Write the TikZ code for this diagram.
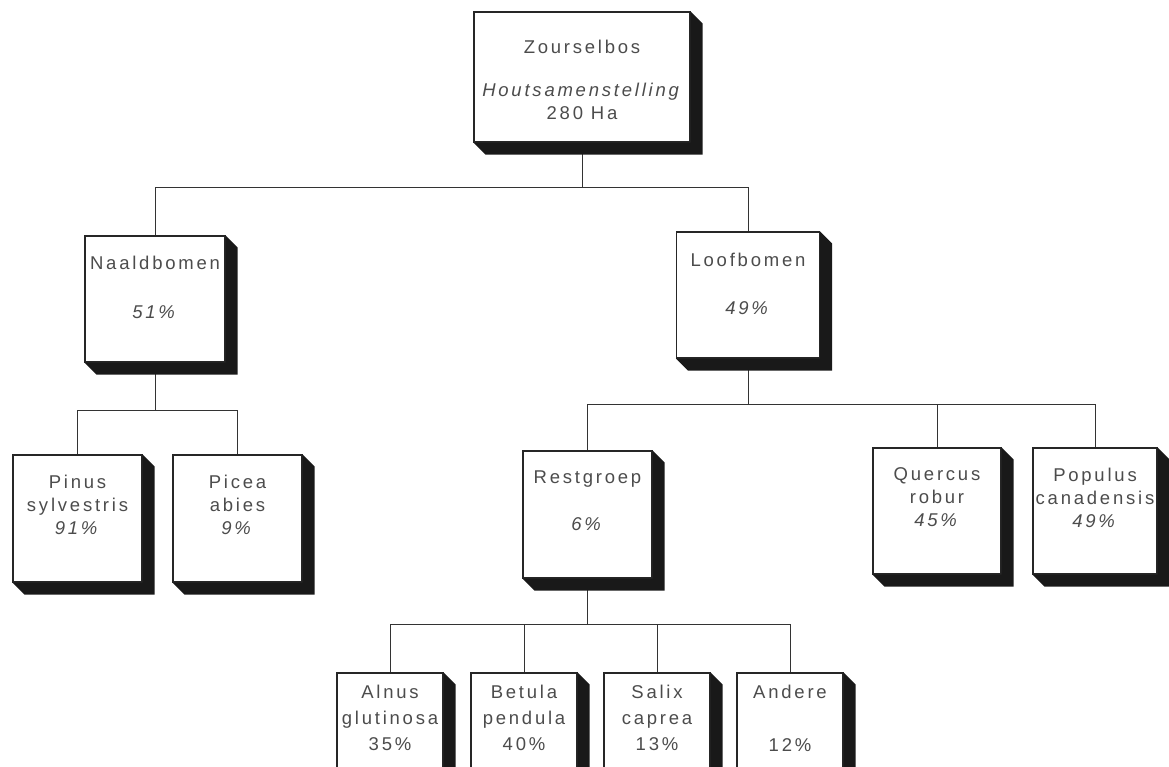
\documentclass[tikz,border=0pt]{standalone}
\usepackage{fontspec}
\setmainfont{Liberation Sans}[LetterSpace=15]
\usetikzlibrary{positioning}

\begin{document}
\begin{tikzpicture}[x=1pt,y=-1pt]
	\tikzstyle{box}=[draw=black!85,line width=1.2pt,fill=white,inner sep=0pt]
	\tikzstyle{small}=[box,minimum width=106pt,minimum height=127pt]
	\tikzstyle{txt}=[align=center,inner sep=0pt,text=black!70,
	                 font=\fontsize{18.5}{23}\selectfont]
	\tikzstyle{conn}=[draw=black!80,line width=0.9pt]
	\useasboundingbox (0,0) rectangle (1169,767);

	% boxes
	\node[box,minimum width=216pt,minimum height=130pt] (top)   at (582,77)    {};
	\node[box,minimum width=140pt,minimum height=126pt] (naald) at (155,299)   {};
	\node[box,minimum width=143pt,minimum height=126pt] (loof)  at (748,295)   {};
	\node[box,minimum width=129pt,minimum height=127pt] (pinus) at (77.5,518.5) {};
	\node[box,minimum width=129pt,minimum height=127pt] (picea) at (237.5,518.5) {};
	\node[box,minimum width=129pt,minimum height=127pt] (rest)  at (587.5,514.5) {};
	\node[box,minimum width=128pt,minimum height=126pt] (quercus) at (937,511) {};
	\node[box,minimum width=124pt,minimum height=126pt] (populus) at (1095,511) {};
	\node[small] (alnus)  at (390,736.5) {};
	\node[small] (betula) at (524,736.5) {};
	\node[small] (salix)  at (657,736.5) {};
	\node[small] (andere) at (790,736.5) {};

	% connectors
	\draw[conn] (top.south) -- ++(0,45) coordinate (b0) -| (naald.north);
	\draw[conn] (b0) -| (loof.north);
	\draw[conn] (naald.south) -- ++(0,48) coordinate (b1) -| (pinus.north);
	\draw[conn] (b1) -| (picea.north);
	\draw[conn] (loof.south) -- ++(0,46) coordinate (b2) -| (rest.north);
	\draw[conn] (b2) -| (quercus.north);
	\draw[conn] (b2) -| (populus.north);
	\draw[conn] (rest.south) -- ++(0,46) coordinate (b3) -| (alnus.north);
	\draw[conn] (b3) -| (betula.north);
	\draw[conn] (b3) -| (salix.north);
	\draw[conn] (b3) -| (andere.north);

	% shadows
	\foreach \n in {top,naald,loof,pinus,picea,rest,quercus,populus,alnus,betula,salix,andere}
		\fill[black!90] (\n.north east) -- ++(12,12) -- ([shift={(12,12)}]\n.south east)
			-- ([shift={(12,12)}]\n.south west) -- (\n.south west) -- (\n.south east) -- cycle;

	% texts
	\node[txt,below=28pt of top.north]     (topT)     {Zourselbos\\[20pt]\textit{Houtsamenstelling}\\280 Ha};
	\node[txt,below=20pt of naald.north]   (naaldT)   {Naaldbomen\\[26pt]\textit{51\%}};
	\node[txt,below=21pt of loof.north]    (loofT)    {Loofbomen\\[25pt]\textit{49\%}};
	\node[txt,below=20pt of pinus.north]   (pinusT)   {Pinus\\sylvestris\\\textit{91\%}};
	\node[txt,below=20pt of picea.north]   (piceaT)   {Picea\\abies\\\textit{9\%}};
	\node[txt,below=20pt of rest.north]    (restT)    {Restgroep\\[24pt]\textit{6\%}};
	\node[txt,below=20pt of quercus.north] (quercusT) {Quercus\\robur\\\textit{45\%}};
	\node[txt,below=20pt of populus.north] (populusT) {Populus\\canadensis\\\textit{49\%}};
	\node[txt,below=12pt of alnus.north]   (alnusT)   {Alnus\\[3pt]glutinosa\\[3pt]35\%};
	\node[txt,below=12pt of betula.north]  (betulaT)  {Betula\\[3pt]pendula\\[3pt]40\%};
	\node[txt,below=12pt of salix.north]   (salixT)   {Salix\\[3pt]caprea\\[3pt]13\%};
	\node[txt,below=12pt of andere.north]  (andereT)  {Andere\\[30pt]12\%};
\end{tikzpicture}
\end{document}
